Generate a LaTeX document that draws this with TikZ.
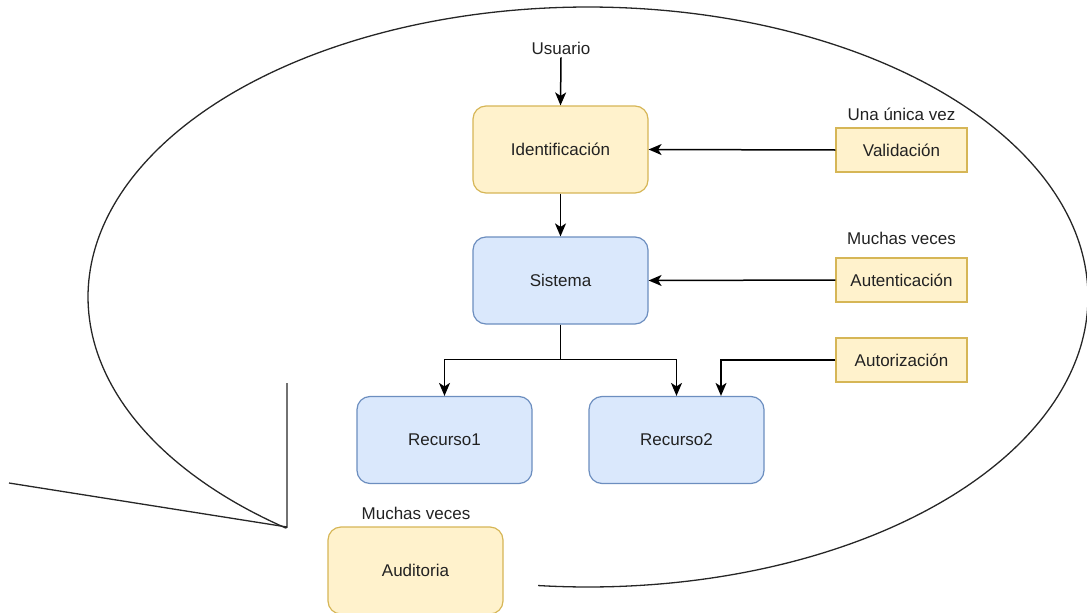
\documentclass[tikz,border=0pt]{standalone}
\usepackage{fontspec}
\setmainfont{Liberation Sans}
\usetikzlibrary{arrows.meta}
\definecolor{yelfill}{HTML}{FFF2CC}
\definecolor{yeldraw}{HTML}{D6B656}
\definecolor{blufill}{HTML}{DAE8FC}
\definecolor{bludraw}{HTML}{6C8EBF}
\definecolor{ink}{HTML}{222222}

\begin{document}
\begin{tikzpicture}[x=1pt,y=-1pt,
  font=\fontsize{17}{20}\selectfont, text=ink,
  bigbox/.style={rounded corners=13pt, minimum width=175pt, minimum height=87pt, inner sep=0pt, line width=1.2pt},
  yel/.style={fill=yelfill, draw=yeldraw},
  blu/.style={fill=blufill, draw=bludraw},
  tag/.style={draw=yeldraw, fill=yelfill, minimum width=131pt, minimum height=44pt, inner sep=0pt, line width=1.2pt},
  lbl/.style={inner sep=3pt},
  conn/.style={line width=1.5pt, draw=black, -{Stealth[length=13pt,width=11pt,inset=3.5pt]}},
  outline/.style={line width=1.3pt, draw=black!85}
]
\useasboundingbox (0,0) rectangle (1087,613);

% speech-bubble outline with its tail
\coordinate (tip) at (287,527);
\coordinate (tailL) at (9,483);
\coordinate (tailT) at (287,383);
\draw[outline] (tailL) -- (tip) -- (tailT);
\draw[outline] (tip) -- plot[domain=127.2:455.74, samples=300] ({588+500*cos(\x)},{297+290*sin(\x)});

% main flow
\node[lbl] (usuario) at (561,48) {Usuario};
\node[bigbox,yel] (ident) at (560.5,149.5) {Identificación};
\node[bigbox,blu] (sis) at (560.5,280.5) {Sistema};
\node[bigbox,blu] (rec1) at (444.5,440) {Recurso1};
\node[bigbox,blu] (rec2) at (676.5,440) {Recurso2};

% side controls
\node[tag] (valid) at (901.5,150) {Validación};
\node[tag] (auten) at (901.5,280) {Autenticación};
\node[tag] (autz) at (901.5,360) {Autorización};
\node[lbl] (unavez) at (901.5,114) {Una única vez};
\node[lbl] (muchas1) at (901.5,238) {Muchas veces};

% audit
\node[bigbox,yel] (audit) at (415.5,570.5) {Auditoria};
\node[lbl] (muchas2) at (416,513) {Muchas veces};

% connectors
\draw[conn] (usuario.south) -- (ident.north);
\draw[conn] (ident.south) -- (sis.north);
\draw[conn] (valid.west) -- (ident.east);
\draw[conn] (auten.west) -- (sis.east);
\draw[conn] (sis.south) -- ++(0,35) -| (rec1.north);
\draw[conn] (sis.south) -- ++(0,35) -| (rec2.north);
\draw[conn] (autz.west) -| ([xshift=44.5pt]rec2.north);
\end{tikzpicture}
\end{document}
